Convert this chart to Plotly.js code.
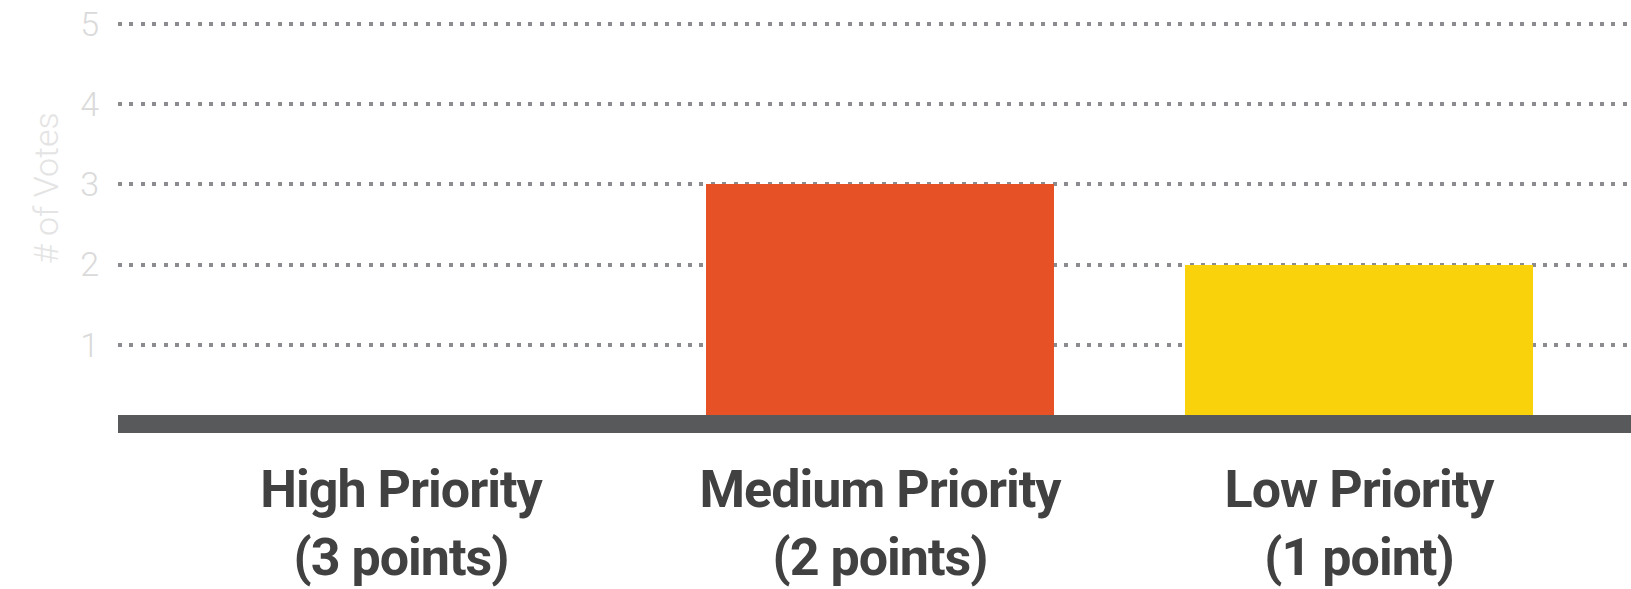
<!DOCTYPE html>
<html>
<head>
<meta charset="utf-8">
<script src="https://cdn.plot.ly/plotly-3.0.1.min.js"></script>
<style>
  html, body { margin: 0; padding: 0; background: #ffffff; }
  #chart { width: 1631px; height: 589px; }
  .xtick text { letter-spacing: -1px; }
</style>
</head>
<body>
<div id="chart"></div>
<script>
// ---- data ----
const categories = ["High Priority<br>(3 points)", "Medium Priority<br>(2 points)", "Low Priority<br>(1 point)"];
const votes = [0, 3, 2];
const barColors = ["#e04a2b", "#e65125", "#fad20c"];
const yTickVals = [1, 2, 3, 4, 5];
const yTickText = ["1", "2", "3", "4", "5"];
const yAxisTitle = "# of Votes";

const trace = {
  type: "bar",
  x: categories,
  y: votes,
  width: 0.7265,
  marker: { color: barColors, line: { width: 0 } },
  hoverinfo: "skip"
};

const layout = {
  width: 1631,
  height: 589,
  margin: { l: 118, r: 0, t: 0, b: 149, pad: 0 },
  paper_bgcolor: "#ffffff",
  plot_bgcolor: "#ffffff",
  showlegend: false,
  bargap: 0,
  xaxis: {
    type: "category",
    range: [-0.5908, 2.5678],
    showgrid: false,
    zeroline: false,
    showline: false,
    ticks: "",
    ticklabelstandoff: 14,
    tickfont: { family: "Roboto, 'Open Sans', sans-serif", size: 52, color: "#414141", weight: 700 },
    fixedrange: true
  },
  yaxis: {
    range: [-0.187, 5.298],
    tickvals: yTickVals,
    ticktext: yTickText,
    showgrid: true,
    gridcolor: "#8c8c90",
    gridwidth: 4,
    griddash: "4px,7.4px",
    zeroline: false,
    showline: false,
    ticks: "",
    ticklabelstandoff: 18,
    tickfont: { family: "Roboto, Lato, sans-serif", size: 34, color: "#dadada", weight: 300 },
    fixedrange: true
  },
  shapes: [
    {
      type: "rect",
      layer: "above",
      xref: "paper", x0: 0, x1: 1,
      yref: "y", y0: -0.1, y1: 0.125,
      fillcolor: "#58595b",
      line: { width: 0 }
    }
  ],
  annotations: [
    {
      text: yAxisTitle,
      xref: "paper", x: -0.0476, xanchor: "center",
      yref: "y", y: 2.954, yanchor: "middle",
      textangle: -90,
      showarrow: false,
      font: { family: "Roboto, Lato, sans-serif", size: 34, color: "#e4e4e4", weight: 300 }
    }
  ]
};

Plotly.newPlot("chart", [trace], layout, { displayModeBar: false, staticPlot: true });
</script>
</body>
</html>
